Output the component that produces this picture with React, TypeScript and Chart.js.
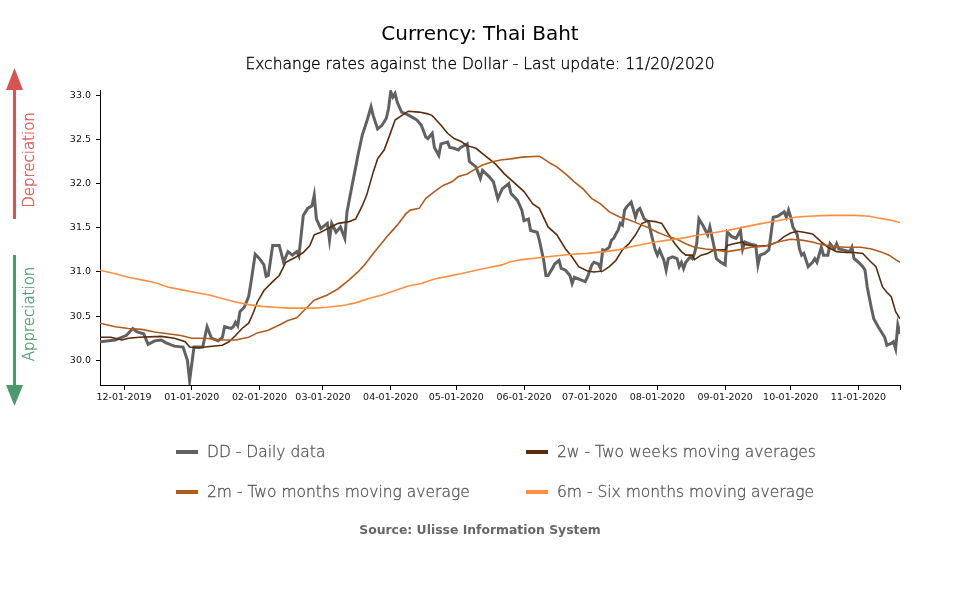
import React, { useEffect, useRef } from "react";
import { Chart, registerables } from "chart.js";

Chart.register(...registerables);

// Day 0 = 11/20/2019
const START_DATE = Date.UTC(2019, 10, 20);
const monthTickDays = [11, 42, 73, 102, 133, 163, 194, 224, 255, 286, 316, 347, 366];
const yTickValues = [30.0, 30.5, 31.0, 31.5, 32.0, 32.5, 33.0];

const dailyDays = [
  0, 7, 12, 15, 17, 20, 22, 25, 28, 30, 34, 38, 40, 41, 43, 47, 49, 51, 54, 56,
  57, 60, 61, 62, 63, 64, 66, 68, 69, 71, 73, 75, 76, 77, 79, 82, 84, 86, 88, 90,
  91, 93, 95, 97, 98, 99, 101, 104, 105, 106, 108, 110, 112, 113, 115, 117, 118, 120, 122, 124,
  125, 127, 129, 131, 132, 133, 134, 135, 136, 138, 140, 143, 145, 147, 149, 150, 152, 153, 155, 156,
  159, 160, 162, 164, 165, 168, 169, 172, 174, 175, 178, 180, 182, 184, 187, 188, 191, 193, 194, 196,
  197, 200, 201, 203, 204, 205, 207, 208, 210, 211, 213, 215, 216, 217, 220, 222, 223, 225, 226, 228,
  229, 230, 231, 233, 234, 235, 236, 237, 238, 239, 240, 241, 243, 245, 246, 247, 249, 251, 252, 254,
  255, 256, 258, 259, 260, 262, 264, 265, 266, 267, 268, 270, 271, 272, 273, 274, 276, 278, 279, 281,
  282, 284, 286, 287, 289, 291, 293, 294, 295, 297, 300, 301, 302, 304, 306, 307, 308, 310, 313, 314,
  315, 316, 317, 319, 320, 321, 322, 324, 326, 327, 328, 330, 331, 333, 334, 336, 337, 338, 340, 343,
  344, 345, 347, 349, 350, 351, 353, 354, 356, 357, 359, 360, 362, 363, 364, 365, 366,
];
const dailyValues = [
  30.21, 30.23, 30.28, 30.36, 30.32, 30.30, 30.18, 30.22, 30.23, 30.20, 30.16, 30.15, 30.00, 29.77, 30.15, 30.15, 30.38, 30.25, 30.22, 30.26,
  30.38, 30.36, 30.38, 30.43, 30.39, 30.55, 30.60, 30.72, 30.87, 31.20, 31.15, 31.08, 30.95, 30.96, 31.30, 31.30, 31.11, 31.23, 31.19, 31.23,
  31.18, 31.64, 31.72, 31.75, 31.87, 31.60, 31.49, 31.55, 31.36, 31.55, 31.45, 31.51, 31.38, 31.68, 31.94, 32.19, 32.32, 32.55, 32.70, 32.87,
  32.77, 32.62, 32.66, 32.74, 32.85, 33.04, 32.98, 33.02, 32.92, 32.81, 32.79, 32.75, 32.72, 32.66, 32.53, 32.51, 32.57, 32.41, 32.32, 32.45,
  32.47, 32.41, 32.40, 32.38, 32.41, 32.45, 32.25, 32.19, 32.06, 32.15, 32.08, 32.02, 31.83, 31.94, 32.00, 31.89, 31.81, 31.70, 31.58, 31.60,
  31.47, 31.45, 31.36, 31.13, 30.96, 30.96, 31.04, 31.09, 31.13, 31.04, 31.02, 30.96, 30.87, 30.94, 30.91, 30.89, 30.94, 31.08, 31.11, 31.09,
  31.04, 31.25, 31.24, 31.28, 31.36, 31.38, 31.43, 31.47, 31.55, 31.53, 31.70, 31.74, 31.79, 31.62, 31.70, 31.72, 31.60, 31.57, 31.45, 31.25,
  31.19, 31.25, 31.13, 31.02, 31.15, 31.17, 31.15, 31.06, 31.11, 31.04, 31.11, 31.17, 31.15, 31.21, 31.32, 31.60, 31.52, 31.42, 31.51, 31.28,
  31.15, 31.11, 31.08, 31.45, 31.40, 31.38, 31.47, 31.26, 31.34, 31.32, 31.30, 31.08, 31.19, 31.21, 31.25, 31.43, 31.62, 31.63, 31.68, 31.62,
  31.70, 31.62, 31.51, 31.42, 31.26, 31.19, 31.21, 31.06, 31.11, 31.15, 31.11, 31.28, 31.19, 31.19, 31.32, 31.26, 31.32, 31.26, 31.25, 31.23,
  31.28, 31.15, 31.11, 31.06, 31.02, 30.83, 30.58, 30.47, 30.38, 30.34, 30.26, 30.17, 30.19, 30.21, 30.13, 30.40, 30.30,
];

const twoWeekDays = [
  0, 5, 10, 13, 18, 28, 34, 39, 41, 45, 48, 56, 59, 62, 65, 68, 70, 72, 75, 79,
  82, 85, 89, 93, 96, 98, 101, 104, 109, 114, 117, 120, 122, 125, 127, 130, 133, 135, 138, 141,
  146, 150, 152, 156, 159, 162, 165, 168, 172, 176, 181, 185, 190, 194, 198, 201, 205, 209, 213, 216,
  219, 223, 226, 230, 233, 236, 239, 242, 245, 248, 251, 254, 257, 260, 263, 266, 268, 271, 272, 275,
  278, 281, 286, 287, 290, 294, 295, 300, 306, 310, 313, 316, 319, 322, 326, 330, 333, 337, 341, 345,
  349, 352, 355, 358, 360, 362, 364, 366,
];
const twoWeekValues = [
  30.26, 30.26, 30.23, 30.25, 30.26, 30.27, 30.25, 30.21, 30.15, 30.14, 30.15, 30.17, 30.21, 30.28, 30.36, 30.42, 30.53, 30.66, 30.79, 30.89,
  30.96, 31.11, 31.16, 31.22, 31.30, 31.42, 31.45, 31.49, 31.55, 31.57, 31.60, 31.75, 31.87, 32.13, 32.28, 32.38, 32.58, 32.72, 32.77, 32.82,
  32.81, 32.79, 32.77, 32.66, 32.57, 32.51, 32.48, 32.43, 32.40, 32.32, 32.22, 32.11, 32.00, 31.91, 31.77, 31.72, 31.51, 31.42, 31.26, 31.17,
  31.06, 31.01, 31.00, 31.01, 31.06, 31.13, 31.25, 31.32, 31.42, 31.55, 31.58, 31.57, 31.55, 31.43, 31.32, 31.23, 31.19, 31.19, 31.14, 31.19,
  31.21, 31.25, 31.25, 31.30, 31.32, 31.34, 31.31, 31.29, 31.30, 31.34, 31.40, 31.44, 31.46, 31.45, 31.43, 31.34, 31.28, 31.23, 31.22, 31.22,
  31.21, 31.13, 31.06, 30.83, 30.77, 30.72, 30.55, 30.47,
];

const twoMonthDays = [
  0, 7, 13, 19, 25, 31, 37, 42, 48, 56, 62, 68, 72, 77, 82, 86, 90, 94, 98, 104,
  109, 114, 118, 121, 125, 128, 132, 136, 140, 142, 146, 149, 153, 157, 161, 164, 168, 172, 175, 180,
  184, 188, 193, 201, 203, 206, 209, 213, 217, 221, 225, 229, 233, 238, 242, 246, 251, 255, 260, 264,
  268, 272, 277, 281, 287, 292, 298, 304, 310, 316, 321, 326, 330, 335, 341, 348, 353, 357, 361, 364,
  366,
];
const twoMonthValues = [
  30.42, 30.38, 30.36, 30.35, 30.32, 30.30, 30.28, 30.25, 30.25, 30.23, 30.23, 30.26, 30.31, 30.34, 30.40, 30.45, 30.48, 30.58, 30.68, 30.74,
  30.81, 30.91, 31.00, 31.08, 31.21, 31.30, 31.42, 31.53, 31.66, 31.70, 31.72, 31.83, 31.91, 31.98, 32.02, 32.08, 32.11, 32.17, 32.21, 32.25,
  32.27, 32.28, 32.30, 32.31, 32.28, 32.23, 32.19, 32.11, 32.02, 31.94, 31.83, 31.77, 31.68, 31.62, 31.59, 31.55, 31.50, 31.45, 31.40, 31.37,
  31.32, 31.28, 31.26, 31.25, 31.23, 31.25, 31.28, 31.29, 31.34, 31.37, 31.36, 31.34, 31.31, 31.29, 31.28, 31.28, 31.26, 31.23, 31.19, 31.14,
  31.11,
];

const sixMonthDays = [
  0, 7, 13, 19, 25, 31, 37, 43, 50, 56, 62, 68, 74, 80, 86, 93, 98, 104, 111, 117,
  123, 129, 135, 141, 147, 153, 159, 165, 172, 178, 184, 187, 193, 201, 208, 216, 223, 231, 237, 242,
  248, 254, 260, 266, 272, 280, 287, 295, 303, 310, 318, 324, 333, 345, 352, 356, 361, 366,
];
const sixMonthValues = [
  31.02, 30.98, 30.94, 30.91, 30.88, 30.83, 30.80, 30.77, 30.74, 30.70, 30.66, 30.63, 30.61, 30.60, 30.59, 30.59, 30.59, 30.60, 30.62, 30.65,
  30.70, 30.74, 30.79, 30.84, 30.87, 30.92, 30.95, 30.98, 31.02, 31.05, 31.08, 31.11, 31.14, 31.16, 31.18, 31.20, 31.21, 31.23, 31.25, 31.28,
  31.31, 31.34, 31.36, 31.38, 31.41, 31.44, 31.47, 31.51, 31.55, 31.58, 31.62, 31.63, 31.64, 31.64, 31.63, 31.61, 31.59, 31.56,
];

const seriesLabels = [
  "DD - Daily data",
  "2w - Two weeks moving averages",
  "2m - Two months moving average",
  "6m - Six months moving average",
];
const seriesColors = ["#616161", "#5c2c0c", "#b05c1f", "#ff8e3f"];

const FONT = "'DejaVu Sans', Verdana, sans-serif";

function pts(days: number[], vals: number[]) {
  return days.map((d, i) => ({ x: d, y: vals[i] }));
}

function fmtDate(v: number) {
  const d = new Date(START_DATE + v * 86400000);
  const mm = String(d.getUTCMonth() + 1).padStart(2, "0");
  const dd = String(d.getUTCDate()).padStart(2, "0");
  return `${mm}-${dd}-${d.getUTCFullYear()}`;
}

export default function App() {
  const ref = useRef<HTMLCanvasElement | null>(null);

  useEffect(() => {
    if (!ref.current) return;
    const chart = new Chart(ref.current, {
      type: "line",
      data: {
        datasets: [
          {
            label: seriesLabels[0],
            data: pts(dailyDays, dailyValues),
            borderColor: seriesColors[0],
            borderWidth: 3,
            pointRadius: 0,
            order: 4,
          },
          {
            label: seriesLabels[1],
            data: pts(twoWeekDays, twoWeekValues),
            borderColor: seriesColors[1],
            borderWidth: 1.6,
            pointRadius: 0,
            order: 3,
          },
          {
            label: seriesLabels[2],
            data: pts(twoMonthDays, twoMonthValues),
            borderColor: seriesColors[2],
            borderWidth: 1.6,
            pointRadius: 0,
            order: 2,
          },
          {
            label: seriesLabels[3],
            data: pts(sixMonthDays, sixMonthValues),
            borderColor: seriesColors[3],
            borderWidth: 1.6,
            pointRadius: 0,
            order: 1,
          },
        ],
      },
      options: {
        responsive: false,
        animation: false,
        devicePixelRatio: 1,
        layout: { padding: { top: 90, left: 0, right: 60, bottom: 190 } },
        plugins: {
          legend: { display: false },
          title: { display: false },
          tooltip: { enabled: false },
        },
        scales: {
          x: {
            type: "linear",
            min: 0,
            max: 366,
            afterBuildTicks: (scale: any) => {
              scale.ticks = monthTickDays.map((v) => ({ value: v }));
            },
            afterFit: (scale: any) => {
              scale.height = 25;
            },
            ticks: {
              autoSkip: false,
              maxRotation: 0,
              padding: 2,
              color: "#111",
              font: { family: FONT, size: 9.5 },
              callback: (v: any) => (Number(v) >= 366 ? "" : fmtDate(Number(v))),
            },
            grid: {
              drawOnChartArea: false,
              drawTicks: true,
              tickLength: 5,
              color: "#000",
            },
            border: { color: "#000", width: 1 },
          },
          y: {
            type: "linear",
            min: 29.72,
            max: 33.06,
            afterBuildTicks: (scale: any) => {
              scale.ticks = yTickValues.map((v) => ({ value: v }));
            },
            afterFit: (scale: any) => {
              scale.width = 100;
            },
            ticks: {
              padding: 5,
              color: "#111",
              font: { family: FONT, size: 9.5 },
              callback: (v: any) => Number(v).toFixed(1),
            },
            grid: {
              drawOnChartArea: false,
              drawTicks: true,
              tickLength: 4,
              color: "#000",
            },
            border: { color: "#000", width: 1 },
          },
        },
      },
    });
    return () => chart.destroy();
  }, []);

  const legendPos = [
    { x: 176, y: 452 },
    { x: 526, y: 452 },
    { x: 176, y: 492 },
    { x: 526, y: 492 },
  ];

  return (
    <div style={{ position: "absolute", left: 0, top: 0, width: 960, height: 600, background: "#fff", fontFamily: FONT }}>
      <canvas ref={ref} width={960} height={600} style={{ position: "absolute", left: 0, top: 0, width: 960, height: 600 }} />
      <div style={{ position: "absolute", left: 0, top: 21, width: 960, lineHeight: "24px", fontSize: 20, textAlign: "center", color: "#000" }}>
        Currency: Thai Baht
      </div>
      <div style={{ position: "absolute", left: 0, top: 54, width: 960, lineHeight: "20px", fontSize: 15.5, fontWeight: 200, textAlign: "center", color: "#000", WebkitTextStroke: "0.35px #000" }}>
        Exchange rates against the Dollar - Last update: 11/20/2020
      </div>
      <svg width={60} height={420} style={{ position: "absolute", left: 0, top: 0 }}>
        <line x1={14.5} y1={88} x2={14.5} y2={219} stroke="#d9534f" strokeWidth={3} />
        <polygon points="14.5,68 6,90 23,90" fill="#d9534f" />
        <text x={29} y={160} transform="rotate(-90 29 160)" textAnchor="middle" dominantBaseline="central" fill="#d9534f" stroke="#d9534f" strokeWidth={0.35} fontSize={15} fontWeight={200} fontFamily={FONT}>
          Depreciation
        </text>
        <line x1={14.5} y1={255} x2={14.5} y2={387} stroke="#4a9a6b" strokeWidth={3} />
        <polygon points="14.5,406 6,385 23,385" fill="#4a9a6b" />
        <text x={29} y={314} transform="rotate(-90 29 314)" textAnchor="middle" dominantBaseline="central" fill="#4a9a6b" stroke="#4a9a6b" strokeWidth={0.35} fontSize={15} fontWeight={200} fontFamily={FONT}>
          Appreciation
        </text>
      </svg>
      {seriesLabels.map((lab, i) => (
        <div key={lab} style={{ position: "absolute", left: legendPos[i].x, top: legendPos[i].y - 10, height: 20, display: "flex", alignItems: "center", whiteSpace: "nowrap" }}>
          <span style={{ display: "inline-block", width: 22, height: 4, background: seriesColors[i], marginRight: 9 }} />
          <span style={{ fontSize: 15.5, fontWeight: 200, color: "#555", lineHeight: "20px", WebkitTextStroke: "0.3px #555" }}>{lab}</span>
        </div>
      ))}
      <div style={{ position: "absolute", left: 0, top: 522, width: 960, lineHeight: "16px", fontSize: 12.4, fontWeight: "bold", textAlign: "center", color: "#666" }}>
        Source: Ulisse Information System
      </div>
    </div>
  );
}
